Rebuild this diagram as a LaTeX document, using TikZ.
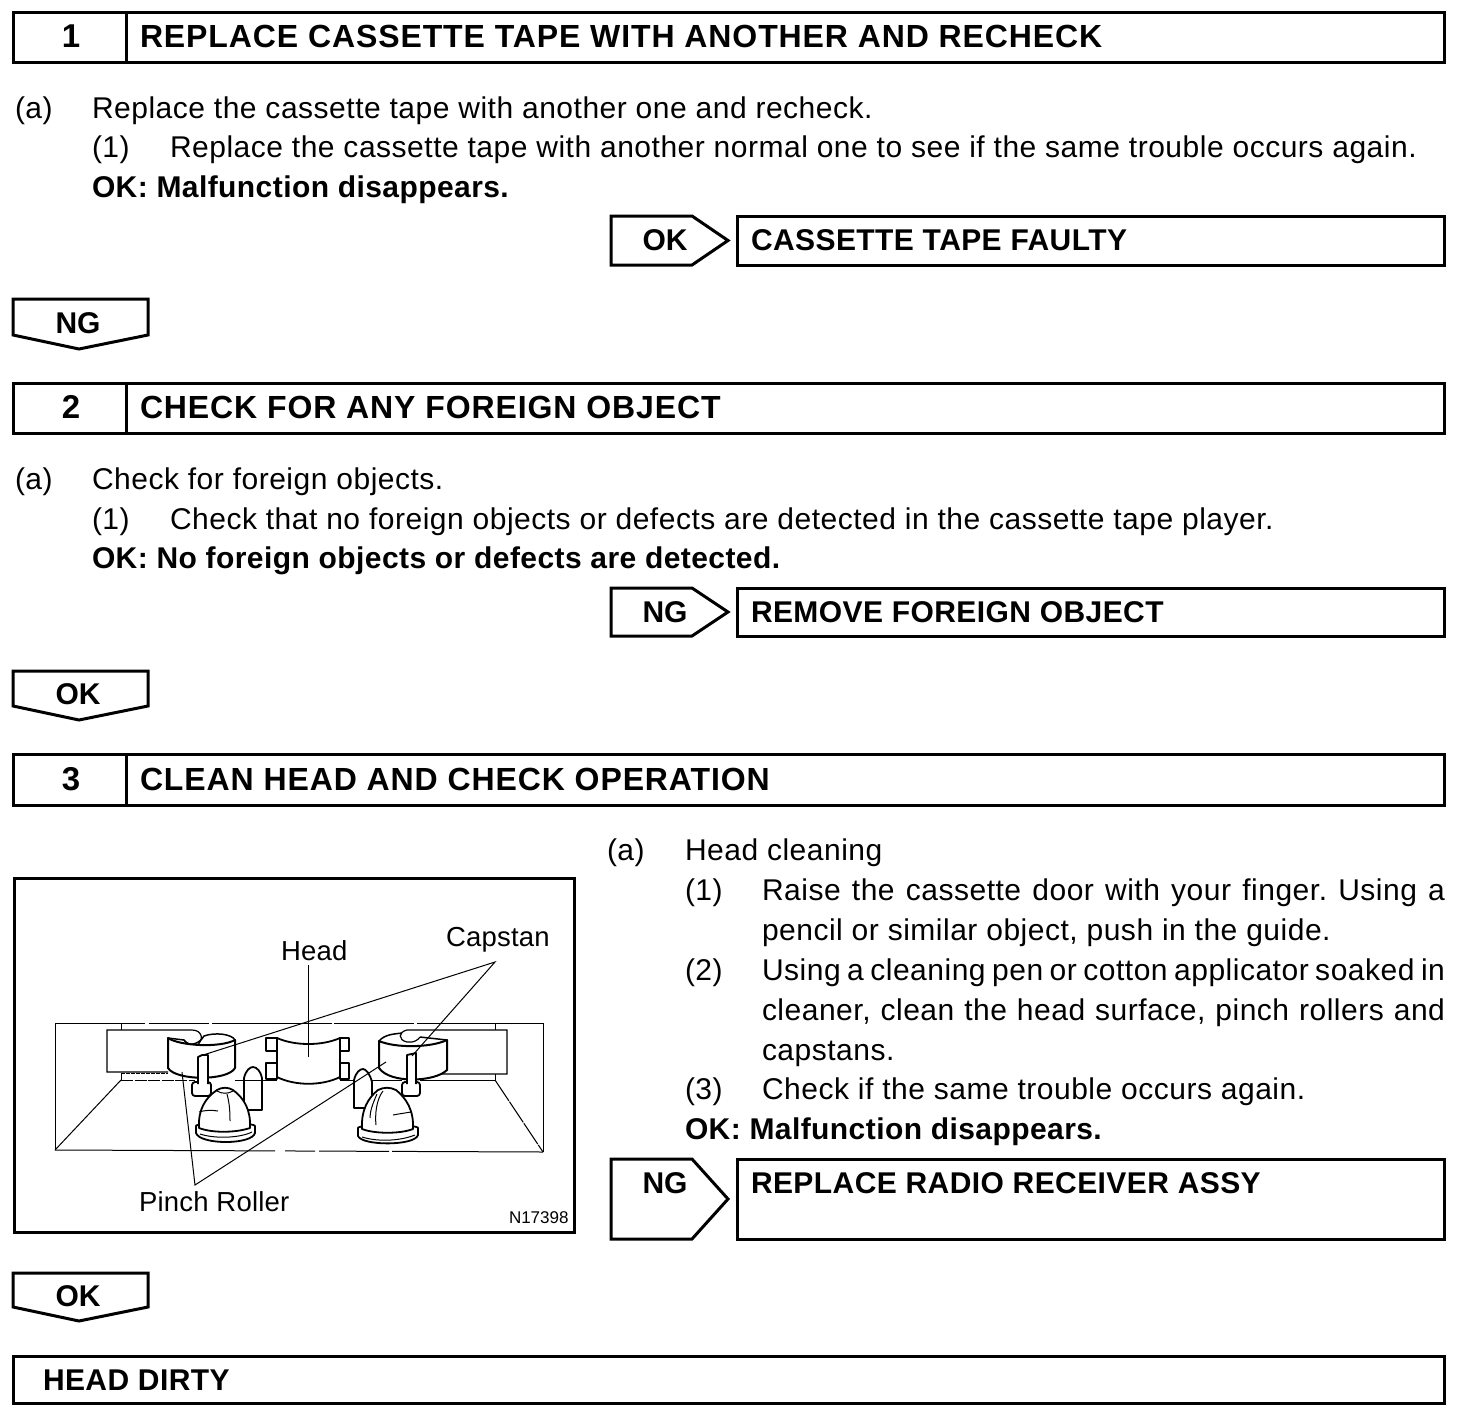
\documentclass[tikz,border=0pt]{standalone}
\usepackage{fontspec}
\setmainfont[LetterSpace=1.7,BoldFeatures={LetterSpace=1.4}]{Liberation Sans}
\newfontfamily\hdfam[LetterSpace=2.8]{Liberation Sans}
\newfontfamily\figfam[LetterSpace=0.8]{Liberation Sans}
\newfontfamily\plainfam{Liberation Sans}
\newcommand{\jl}[2]{\makebox[#1pt][s]{#2}}
\tikzset{
 x=1pt,y=-1pt,
 txt/.style={anchor=base west,inner sep=0,outer sep=0},
 body/.style={txt,font=\fontsize{30}{30}\selectfont},
 bld/.style={txt,font=\fontsize{30}{30}\selectfont\bfseries},
 hd/.style={txt,font=\hdfam\fontsize{32}{32}\selectfont\bfseries},
 hdc/.style={anchor=base,inner sep=0,outer sep=0,font=\plainfam\fontsize{30}{30}\selectfont\bfseries},
 hdn/.style={anchor=base,inner sep=0,outer sep=0,font=\plainfam\fontsize{33}{33}\selectfont\bfseries},
 fig/.style={txt,font=\figfam\fontsize{27.5}{27.5}\selectfont},
 frame/.style={draw,line width=3pt,line join=miter,fill=white},
 mech/.style={draw,line width=1.8pt,line join=round,fill=white},
 thin/.style={draw,line width=1pt},
 leader/.style={draw,line width=1pt},
}
\begin{document}
\frenchspacing
\begin{tikzpicture}
\useasboundingbox (0,0) rectangle (1472,1416);
% step headers
\draw[frame] (13,12) rectangle (1444,62);   \draw[frame] (126,12)--(126,62);
\draw[frame] (13,383) rectangle (1444,433); \draw[frame] (126,383)--(126,433);
\draw[frame] (13,754) rectangle (1444,805); \draw[frame] (126,754)--(126,805);
\draw[frame] (13,1356) rectangle (1444,1403);
\node[hdn] (n1) at (71,47) {1};
\node[hd] (t1) at (140,47) {REPLACE CASSETTE TAPE WITH ANOTHER AND RECHECK};
\node[hdn] (n2) at (71,418) {2};
\node[hd] (t2) at (140,418) {CHECK FOR ANY FOREIGN OBJECT};
\node[hdn] (n3) at (71,790) {3};
\node[hd] (t3) at (140,790) {CLEAN HEAD AND CHECK OPERATION};
\node[bld] (t4) at (43,1390) {HEAD DIRTY};
% section 1
\node[body] (a1) at (15,118) {(a)};
\node[body] (a1t) at (92,118) {Replace the cassette tape with another one and recheck.};
\node[body] (a2) at (92,157) {(1)};
\node[body] (a2t) at (170,157) {Replace the cassette tape with another normal one to see if the same trouble occurs again.};
\node[bld] (a3) at (92,197) {OK: Malfunction disappears.};
% arrows right
\draw[frame] (611,216)--(692,216)--(728,240.5)--(692,265)--(611,265)--cycle;
\draw[frame] (737,216) rectangle (1444.5,265);
\node[hdc] (ok1) at (665,250) {OK};
\node[bld] (r1) at (751,250) {CASSETTE TAPE FAULTY};
\draw[frame] (13,299)--(148,299)--(148,335)--(79,349)--(13,335)--cycle;
\node[hdc] (ng1) at (78,333) {NG};
% section 2
\node[body] (b1) at (15,489) {(a)};
\node[body] (b1t) at (92,489) {Check for foreign objects.};
\node[body] (b2) at (92,529) {(1)};
\node[body] (b2t) at (170,529) {Check that no foreign objects or defects are detected in the cassette tape player.};
\node[bld] (b3) at (92,568) {OK: No foreign objects or defects are detected.};
\draw[frame] (611,588)--(692,588)--(728,612)--(692,636)--(611,636)--cycle;
\draw[frame] (737,588) rectangle (1444.5,636);
\node[hdc] (ng2) at (665,622) {NG};
\node[bld] (r2) at (751,622) {REMOVE FOREIGN OBJECT};
\draw[frame] (13,671)--(148,671)--(148,706)--(79,720)--(13,706)--cycle;
\node[hdc] (ok2) at (78,704) {OK};
% section 3 text
\node[body] (c1) at (607,860) {(a)};
\node[body] (c1t) at (685,860) {Head cleaning};
\node[body] (c2) at (685,900) {(1)};
\node[body] (c2t) at (762,900) {\jl{683}{Raise the cassette door with your finger. Using a}};
\node[body] (c3) at (762,940) {pencil or similar object, push in the guide.};
\node[body] (c4) at (685,980) {(2)};
\node[body] (c4t) at (762,980) {\jl{683}{Using a cleaning pen or cotton applicator soaked in}};
\node[body] (c5) at (762,1020) {\jl{683}{cleaner, clean the head surface, pinch rollers and}};
\node[body] (c6) at (762,1060) {capstans.};
\node[body] (c7) at (685,1099) {(3)};
\node[body] (c7t) at (762,1099) {Check if the same trouble occurs again.};
\node[bld] (c8) at (685,1139) {OK: Malfunction disappears.};
\draw[frame] (611,1159)--(692,1159)--(728,1199)--(692,1239)--(611,1239)--cycle;
\draw[frame] (737,1159) rectangle (1444.5,1239);
\node[hdc] (ng3) at (665,1193) {NG};
\node[bld] (r3) at (751,1193) {REPLACE RADIO RECEIVER ASSY};
\draw[frame] (13,1273)--(148,1273)--(148,1307)--(79,1321)--(13,1307)--cycle;
\node[hdc] (ok3) at (78,1306) {OK};
% illustration frame
\draw[frame] (14,878) rectangle (574.5,1232);
% housing
\draw[thin,dash pattern=on 90pt off 4pt on 60pt off 3pt on 120pt off 2pt on 80pt off 3pt on 140pt off 0pt] (55,1023)--(543,1023);
\draw[thin] (55,1023)--(55,1150);
\draw[thin] (543,1023)--(543,1152);
\draw[thin,dash pattern=on 220pt off 10pt on 30pt off 4pt on 70pt off 3pt on 150pt off 0pt] (55,1150)--(543,1152);
\draw[thin] (121,1023)--(121,1030);
\draw[thin] (495,1023)--(495,1030);
\draw[thin] (121,1080)--(55,1150);
\draw[thin,dash pattern=on 25pt off 1pt] (495,1080)--(543,1152);
\draw[thin,dash pattern=on 4pt off 1pt] (121,1073)--(168,1073);
\draw[thin,dash pattern=on 12pt off 1.5pt] (121,1080)--(195,1080);
\draw[thin] (430,1073)--(495,1073)--(495,1080)--(420,1080);
\draw[thin] (121,1073)--(121,1080);
\draw[thin] (235,1080)--(277,1080);
\draw[thin] (340,1080)--(402,1080);
% tape guides
\draw[line width=1.2pt,fill=white] (168,1072)--(107,1072)--(107,1030)--(192,1030) .. controls (202,1030) and (205,1040) .. (196,1046) .. controls (190,1046) and (187,1043) .. (184,1040);
\draw[line width=1.2pt,fill=white] (440,1074)--(507,1074)--(507,1030)--(407,1030) .. controls (398,1032) and (398,1040) .. (407,1042) .. controls (414,1043) and (418,1040) .. (420,1037);
% head tabs
\draw[mech] (266,1038) rectangle (277,1051);
\draw[mech] (266,1063) rectangle (277,1079);
\draw[mech] (340,1038) rectangle (349,1051);
\draw[mech] (340,1063) rectangle (349,1079);
% head
\draw[mech] (277,1038) .. controls (295,1046) and (322,1046) .. (340,1038) -- (340,1077) .. controls (322,1086) and (295,1086) .. (277,1077) -- cycle;
% left roller
\draw[mech,line width=2pt] (168,1038) .. controls (180,1046) and (220,1048) .. (235,1040) -- (235,1068) .. controls (228,1081) and (176,1081) .. (168,1068) -- cycle;
\draw[line width=1.5pt] (168,1038) -- (184,1040) .. controls (187,1046) and (198,1046) .. (204,1036) .. controls (215,1032) and (232,1034) .. (235,1040);
% right roller
\draw[mech,line width=2pt] (379,1041) .. controls (395,1048) and (430,1048) .. (447,1040) -- (447,1070) .. controls (435,1082) and (390,1084) .. (379,1068) -- cycle;
\draw[line width=1.5pt] (379,1041) .. controls (385,1034) and (395,1034) .. (402,1033);
\draw[line width=1.5pt] (420,1037) -- (447,1040);
% capstan posts
\draw[mech,rounded corners=3pt] (192,1082) rectangle (211,1096);
\draw[mech] (198,1084) -- (198,1057) -- (202,1055) -- (208,1055) -- (208,1084);
\draw[mech,rounded corners=3pt] (402,1082) rectangle (420,1096);
\draw[mech] (407,1084) -- (407,1055) -- (416,1053) -- (416,1084);
% fingers
\draw[mech] (244,1110) -- (244,1078) .. controls (246,1070) and (250,1067) .. (253,1067) .. controls (257,1067) and (261,1072) .. (262,1078) -- (262,1110) -- cycle;
\draw[thin] (244,1080) -- (262,1080);
\draw[mech] (354,1108) -- (354,1080) .. controls (356,1072) and (360,1069) .. (363,1069) .. controls (366,1069) and (370,1074) .. (372,1082) -- (372,1108) -- cycle;
% left bell
\draw[mech] (196,1126) .. controls (196,1122) and (254,1122) .. (255,1126) -- (255,1133) .. controls (252,1145) and (200,1145) .. (196,1133) -- cycle;
\draw[mech] (199,1128) .. controls (198,1110) and (205,1098) .. (217,1090) .. controls (222,1087) and (228,1087) .. (233,1090) .. controls (244,1098) and (251,1110) .. (250,1128) .. controls (235,1133) and (212,1133) .. (199,1128) -- cycle;
\draw[thin] (217,1091) .. controls (222,1094) and (228,1094) .. (233,1091);
\draw[thin] (227,1094) .. controls (230,1105) and (230,1115) .. (230,1121);
\draw[thin] (199,1112) .. controls (205,1110) and (212,1110) .. (218,1111);
\draw[thin] (200,1134) .. controls (215,1139) and (240,1138) .. (252,1132);
% right bell
\draw[mech] (358,1128) .. controls (358,1124) and (418,1124) .. (418,1128) -- (418,1135) .. controls (415,1146) and (362,1146) .. (358,1136) -- cycle;
\draw[mech] (362,1129) .. controls (361,1110) and (368,1098) .. (378,1090) .. controls (384,1087) and (390,1087) .. (396,1090) .. controls (406,1098) and (414,1110) .. (413,1129) .. controls (400,1134) and (375,1134) .. (362,1129) -- cycle;
\draw[thin] (383,1091) .. controls (376,1100) and (375,1115) .. (376,1125);
\draw[thin] (377,1094) .. controls (372,1105) and (370,1112) .. (370,1118);
\draw[thin] (393,1115) .. controls (398,1114) and (405,1113) .. (411,1112);
\draw[thin] (362,1137) .. controls (378,1142) and (400,1141) .. (415,1135);
% labels
\node[fig] (head) at (281,960) {Head};
\node[fig] (cap) at (446,946) {Capstan};
\node[fig] (pinch) at (139,1211) {Pinch Roller};
\node[txt,font=\plainfam\fontsize{17}{17}\selectfont] (code) at (509,1223) {N17398};
\coordinate (capa) at (495,962);
\coordinate (capl) at (200,1056);
\coordinate (capr) at (412,1056);
\coordinate (pina) at (195,1185);
\coordinate (pinl) at (182,1072);
\coordinate (pinr) at (386,1062);
\coordinate (heada) at (308,965);
\coordinate (headb) at (308,1057);
\draw[leader] (capl)--(capa)--(capr);
\draw[leader] (pinl)--(pina)--(pinr);
\draw[leader] (heada)--(headb);
\end{tikzpicture}
\end{document}
